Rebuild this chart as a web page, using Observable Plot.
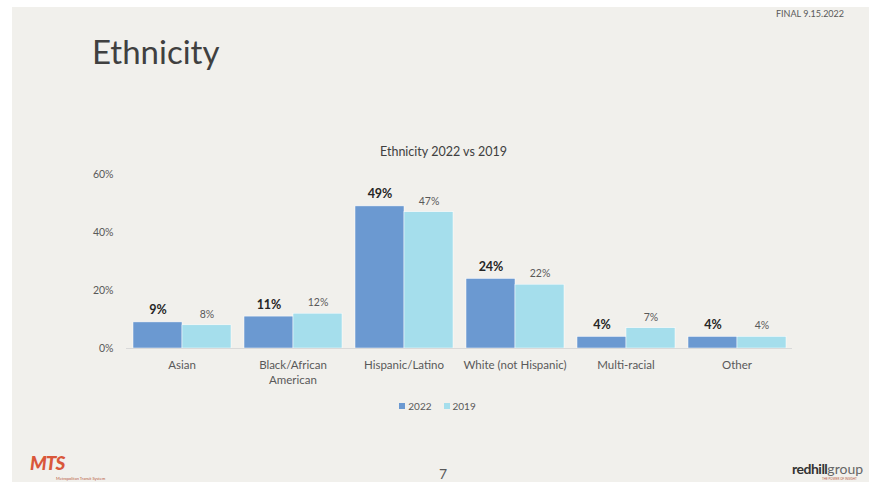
<!DOCTYPE html>
<html>
<head>
<meta charset="utf-8">
<script src="https://cdn.jsdelivr.net/npm/d3@7"></script>
<script src="https://cdn.jsdelivr.net/npm/@observablehq/plot@0.6"></script>
<style>
  html, body { margin: 0; padding: 0; background: #ffffff; }
  body { width: 869px; height: 482px; position: relative; overflow: hidden; font-family: Lato, "Open Sans", sans-serif; }
  #slide { position: absolute; left: 12px; top: 7px; width: 857px; height: 475px; background: #f1f0ec; }
  #chart { position: absolute; left: 0; top: 0; }
  .abs { position: absolute; white-space: nowrap; line-height: 1; }
</style>
</head>
<body>
<div id="slide"></div>
<div class="abs" style="left:92px; top:35px; font-size:33px; color:#404040; font-weight:400;">Ethnicity</div>
<div class="abs" style="left:776px; top:9px; font-size:9px; color:#595959;">FINAL 9.15.2022</div>
<div class="abs" id="ctitle" style="left:0; width:887px; text-align:center; top:146px; font-size:12.5px; color:#404040;">Ethnicity 2022 vs 2019</div>
<div id="chart"></div>
<div class="abs" id="legend" style="left:0; width:887px; top:401px; text-align:center; font-size:10px; color:#595959;"></div>
<div class="abs" style="left:439px; top:467px; font-size:14px; color:#595959;">7</div>
<div class="abs" style="left:30px; top:453px; font-size:19px; font-weight:900; font-style:italic; color:#d9573a; letter-spacing:-1px;">MTS</div>
<div class="abs" style="left:56px; top:477px; font-size:4px; color:#b85b40;">Metropolitan Transit System</div>
<div class="abs" style="left:792px; top:462px; font-size:14px; color:#333;"><span style="font-weight:700; letter-spacing:-0.5px;">redhill</span><span style="color:#666;">group</span></div>
<div class="abs" style="left:822px; top:478px; font-size:3px; color:#b85b40;">THE POWER OF INSIGHT</div>
<script>
const categories = ["Asian", "Black/African American", "Hispanic/Latino", "White (not Hispanic)", "Multi-racial", "Other"];
const categoryLabels = ["Asian", "Black/African\nAmerican", "Hispanic/Latino", "White (not Hispanic)", "Multi-racial", "Other"];
const years = ["2022", "2019"];
const values2022 = [0.09, 0.11, 0.49, 0.24, 0.04, 0.04];
const values2019 = [0.08, 0.12, 0.47, 0.22, 0.07, 0.04];
const yTicks = [0, 0.2, 0.4, 0.6];
const colors = ["#6b99d1", "#a5deec"];

const rows = [];
categories.forEach((c, i) => {
  rows.push({category: c, year: "2022", value: values2022[i]});
  rows.push({category: c, year: "2019", value: values2019[i]});
});
const pct = d3.format(".0%");

const plot = Plot.plot({
  width: 869,
  height: 400,
  marginLeft: 124,
  marginRight: 75,
  marginTop: 174,
  marginBottom: 52,
  style: {background: "transparent", fontFamily: "Lato, 'Open Sans', sans-serif"},
  fx: {domain: categories, padding: 0, axis: null},
  x: {domain: years, paddingInner: 0, paddingOuter: 0.13, axis: null},
  y: {domain: [0, 0.6], axis: null},
  color: {domain: years, range: colors},
  marks: [
    Plot.barY(rows, {fx: "category", x: "year", y: "value", fill: "year", stroke: "#ffffff", strokeWidth: 0.5}),
    Plot.ruleY([0], {stroke: "#d9d9d9", strokeWidth: 1}),
    Plot.text(rows.filter(d => d.year === "2022"), {fx: "category", x: "year", y: "value", text: d => pct(d.value), dy: -12, fontSize: 12.5, fontWeight: "bold", fill: "#262626"}),
    Plot.text(rows.filter(d => d.year === "2019"), {fx: "category", x: "year", y: "value", text: d => pct(d.value), dy: -11, fontSize: 10.5, fill: "#595959"}),
    Plot.axisY({ticks: yTicks, tickFormat: pct, tickSize: 0, tickPadding: 13, fontSize: 10.5, fill: "#595959", label: null}),
    Plot.axisFx({anchor: "bottom", tickSize: 0, tickPadding: 10, fontSize: 11.5, fill: "#595959", lineHeight: 1.32, label: null,
      tickFormat: d => categoryLabels[categories.indexOf(d)]})
  ]
});
document.getElementById("chart").appendChild(plot);

const legend = document.getElementById("legend");
legend.innerHTML = years.map((y, i) =>
  `<span style="display:inline-block; width:6px; height:6px; background:${colors[i]}; margin-right:3px; vertical-align:1px;"></span><span style="margin-right:12px;">${y}</span>`
).join("");
</script>
</body>
</html>
